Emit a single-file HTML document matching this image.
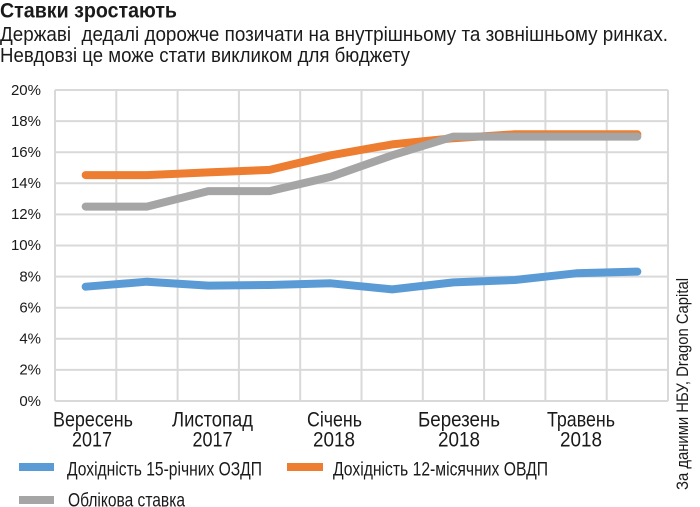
<!DOCTYPE html>
<html><head><meta charset="utf-8">
<style>
html,body{margin:0;padding:0;background:#fff;}
svg{display:block;}
text{font-family:"Liberation Sans","DejaVu Sans",sans-serif;fill:#1a1a1a;white-space:pre;}
</style></head>
<body>
<svg width="700" height="507" viewBox="0 0 700 507" xmlns="http://www.w3.org/2000/svg">
<rect width="700" height="507" fill="#fff"/>
<text x="0" y="17.5" font-size="21" font-weight="bold" textLength="177" lengthAdjust="spacingAndGlyphs">Ставки зростають</text>
<text x="0" y="41" font-size="20" textLength="668" lengthAdjust="spacingAndGlyphs" xml:space="preserve">Державі  дедалі дорожче позичати на внутрішньому та зовнішньому ринках.</text>
<text x="0" y="62" font-size="20" textLength="410" lengthAdjust="spacingAndGlyphs">Невдовзі це може стати викликом для бюджету</text>

<g stroke="#d9d9d9" stroke-width="2" fill="none">
<line x1="55" y1="90" x2="668" y2="90"/>
<line x1="55" y1="121.1" x2="668" y2="121.1"/>
<line x1="55" y1="152.2" x2="668" y2="152.2"/>
<line x1="55" y1="183.3" x2="668" y2="183.3"/>
<line x1="55" y1="214.4" x2="668" y2="214.4"/>
<line x1="55" y1="245.5" x2="668" y2="245.5"/>
<line x1="55" y1="276.6" x2="668" y2="276.6"/>
<line x1="55" y1="307.7" x2="668" y2="307.7"/>
<line x1="55" y1="338.8" x2="668" y2="338.8"/>
<line x1="55" y1="369.9" x2="668" y2="369.9"/>
<line x1="55" y1="401" x2="668" y2="401"/>
<line x1="55" y1="90" x2="55" y2="401"/>
<line x1="116.3" y1="90" x2="116.3" y2="401"/>
<line x1="177.6" y1="90" x2="177.6" y2="401"/>
<line x1="238.9" y1="90" x2="238.9" y2="401"/>
<line x1="300.2" y1="90" x2="300.2" y2="401"/>
<line x1="361.5" y1="90" x2="361.5" y2="401"/>
<line x1="422.8" y1="90" x2="422.8" y2="401"/>
<line x1="484.1" y1="90" x2="484.1" y2="401"/>
<line x1="545.4" y1="90" x2="545.4" y2="401"/>
<line x1="606.7" y1="90" x2="606.7" y2="401"/>
<line x1="668" y1="90" x2="668" y2="401"/>
</g>

<g font-size="15" text-anchor="end">
<text x="41" y="95">20%</text>
<text x="41" y="126">18%</text>
<text x="41" y="157">16%</text>
<text x="41" y="188">14%</text>
<text x="41" y="219">12%</text>
<text x="41" y="250">10%</text>
<text x="41" y="281.5">8%</text>
<text x="41" y="312.5">6%</text>
<text x="41" y="343.5">4%</text>
<text x="41" y="374.5">2%</text>
<text x="41" y="406">0%</text>
</g>

<g fill="none" stroke-width="8" stroke-linecap="round" stroke-linejoin="round">
<polyline stroke="#5b9bd5" points="85.65,286.7 146.95,281.7 208.25,285.6 269.55,285.0 330.85,283.3 392.15,289.4 453.45,282.4 514.75,280.0 576.05,273.3 637.35,271.6"/>
<polyline stroke="#ed7d31" points="85.65,175.1 146.95,175.1 208.25,172.4 269.55,169.9 330.85,155.3 392.15,144.4 453.45,138.2 514.75,134.3 576.05,134.3 637.35,134.3"/>
<polyline stroke="#a5a5a5" points="85.65,206.6 146.95,206.6 208.25,191.1 269.55,191.1 330.85,176.8 392.15,155.3 453.45,136.6 514.75,136.6 576.05,136.6 637.35,136.6"/>
</g>

<g font-size="21" text-anchor="middle">
<text x="93" y="426.5" textLength="80" lengthAdjust="spacingAndGlyphs">Вересень</text>
<text x="92" y="446.5" textLength="40" lengthAdjust="spacingAndGlyphs">2017</text>
<text x="212.5" y="426.5" textLength="81" lengthAdjust="spacingAndGlyphs">Листопад</text>
<text x="212.5" y="446.5" textLength="40" lengthAdjust="spacingAndGlyphs">2017</text>
<text x="334.5" y="426.5" textLength="55" lengthAdjust="spacingAndGlyphs">Січень</text>
<text x="334" y="446.5" textLength="42" lengthAdjust="spacingAndGlyphs">2018</text>
<text x="459" y="426.5" textLength="82" lengthAdjust="spacingAndGlyphs">Березень</text>
<text x="459" y="446.5" textLength="42" lengthAdjust="spacingAndGlyphs">2018</text>
<text x="581" y="426.5" textLength="68" lengthAdjust="spacingAndGlyphs">Травень</text>
<text x="581" y="446.5" textLength="42" lengthAdjust="spacingAndGlyphs">2018</text>
</g>

<rect x="19" y="463" width="35" height="8" fill="#5b9bd5"/>
<text x="67" y="475.5" font-size="19" textLength="195" lengthAdjust="spacingAndGlyphs">Дохідність 15-річних ОЗДП</text>
<rect x="287" y="463" width="36" height="8" fill="#ed7d31"/>
<text x="333" y="475.5" font-size="19" textLength="215" lengthAdjust="spacingAndGlyphs">Дохідність 12-місячних ОВДП</text>
<rect x="19" y="496" width="35" height="8" fill="#a5a5a5"/>
<text x="68" y="506.5" font-size="19" textLength="117" lengthAdjust="spacingAndGlyphs">Облікова ставка</text>

<text transform="translate(688,490) rotate(-90)" font-size="17" textLength="212" lengthAdjust="spacingAndGlyphs">За даними НБУ, Dragon Capital</text>
</svg>
</body></html>
